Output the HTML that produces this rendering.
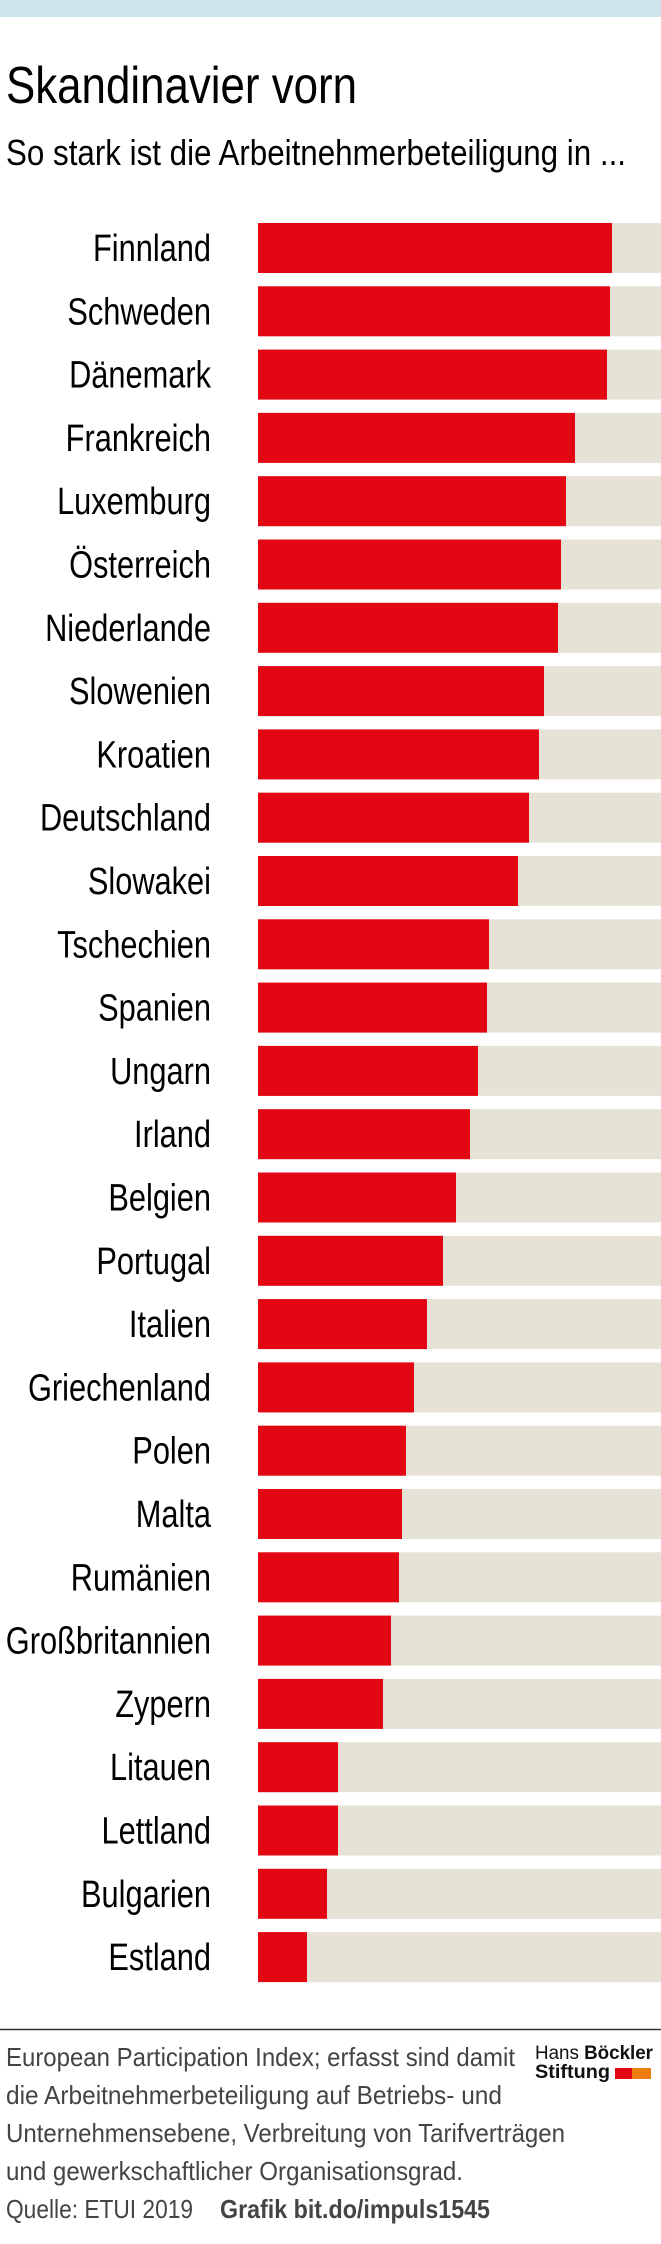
<!DOCTYPE html>
<html><head><meta charset="utf-8"><style>html,body{margin:0;padding:0;background:#fff}svg{display:block}</style></head>
<body>
<svg width="661" height="2244" viewBox="0 0 661 2244" xmlns="http://www.w3.org/2000/svg" font-family="'Liberation Sans', sans-serif">
<rect x="0" y="0" width="661" height="17" fill="#cde4ed"/>
<text x="6" y="103" font-size="52" fill="#000" textLength="351" lengthAdjust="spacingAndGlyphs">Skandinavier vorn</text>
<text x="6" y="165" font-size="36" fill="#000" textLength="620" lengthAdjust="spacingAndGlyphs">So stark ist die Arbeitnehmerbeteiligung in ...</text>
<g id="bars"></g>
<line x1="0" y1="2029.5" x2="661" y2="2029.5" stroke="#333" stroke-width="1.5"/>
<g fill="#444" font-size="26">
<text x="6" y="2066" textLength="509" lengthAdjust="spacingAndGlyphs">European Participation Index; erfasst sind damit</text>
<text x="6" y="2104" textLength="496" lengthAdjust="spacingAndGlyphs">die Arbeitnehmerbeteiligung auf Betriebs- und</text>
<text x="6" y="2142" textLength="559" lengthAdjust="spacingAndGlyphs">Unternehmensebene, Verbreitung von Tarifverträgen</text>
<text x="6" y="2180" textLength="457" lengthAdjust="spacingAndGlyphs">und gewerkschaftlicher Organisationsgrad.</text>
<text x="6" y="2218" textLength="187" lengthAdjust="spacingAndGlyphs">Quelle: ETUI 2019</text>
<text x="220" y="2218" font-weight="bold" textLength="270" lengthAdjust="spacingAndGlyphs">Grafik bit.do/impuls1545</text>
</g>
<text x="535" y="2059" font-size="19" fill="#111" textLength="118" lengthAdjust="spacingAndGlyphs">Hans <tspan font-weight="bold">Böckler</tspan></text>
<text x="535" y="2078" font-size="19" font-weight="bold" fill="#111" textLength="75" lengthAdjust="spacingAndGlyphs">Stiftung</text>
<rect x="615" y="2068" width="17" height="11" fill="#e30613"/>
<rect x="632" y="2068" width="19" height="11" fill="#ee7d11"/>
</svg>
<script>
var d=[["Finnland",612],["Schweden",610],["Dänemark",607],["Frankreich",575],["Luxemburg",566],["Österreich",561],["Niederlande",558],["Slowenien",544],["Kroatien",539],["Deutschland",529],["Slowakei",518],["Tschechien",489],["Spanien",487],["Ungarn",478],["Irland",470],["Belgien",456],["Portugal",443],["Italien",427],["Griechenland",414],["Polen",406],["Malta",402],["Rumänien",399],["Großbritannien",391],["Zypern",383],["Litauen",338],["Lettland",338],["Bulgarien",327],["Estland",307]];
var g=document.getElementById('bars'),s='';
d.forEach(function(r,i){var t=(223+i*63.3).toFixed(1);
s+='<rect x="258" y="'+t+'" width="403" height="50" fill="#e6e3d6"/>';
s+='<rect x="258" y="'+t+'" width="'+(r[1]-258)+'" height="50" fill="#e30613"/>';
s+='<g transform="translate(211,'+(+t+38)+') scale(0.81,1)"><text x="0" y="0" font-size="38" text-anchor="end" fill="#000">'+r[0]+'</text></g>';});
g.innerHTML=s;
</script>
</body></html>
